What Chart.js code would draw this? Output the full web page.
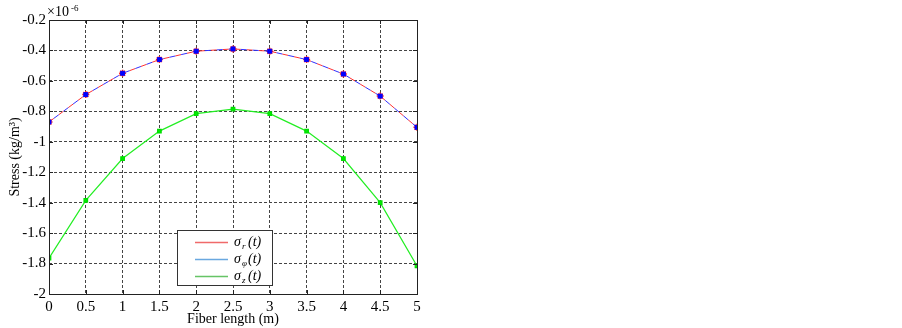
<!DOCTYPE html>
<html>
<head>
<meta charset="utf-8">
<script src="https://cdn.jsdelivr.net/npm/chart.js@4.4.1/dist/chart.umd.min.js"></script>
<style>
  html, body { margin: 0; padding: 0; background: #fff; }
  #wrap { width: 902px; height: 328px; }
</style>
</head>
<body>
<div id="wrap"><canvas id="myChart" width="902" height="328"></canvas></div>
<script>
// fiber length (m)
const xValues = [0, 0.5, 1, 1.5, 2, 2.5, 3, 3.5, 4, 4.5, 5];
// stress, x 1e-6
const sigmaR   = [-0.87, -0.69, -0.55, -0.46, -0.405, -0.39, -0.405, -0.46, -0.555, -0.70, -0.905];
const sigmaPhi = [-0.87, -0.69, -0.55, -0.46, -0.405, -0.39, -0.405, -0.46, -0.555, -0.70, -0.905];
const sigmaZ   = [-1.765, -1.385, -1.11, -0.93, -0.815, -0.785, -0.815, -0.93, -1.11, -1.40, -1.815];

const xTicks = [0, 0.5, 1, 1.5, 2, 2.5, 3, 3.5, 4, 4.5, 5];
const yTicks = [-2, -1.8, -1.6, -1.4, -1.2, -1, -0.8, -0.6, -0.4, -0.2];
const legendNames = [['σ', 'r'], ['σ', 'φ'], ['σ', 'z']];

const serif = '"Liberation Serif", "Times New Roman", serif';

const pts = arr => arr.map((v, i) => ({ x: xValues[i], y: v }));

// box, inner ticks, exponent label and legend
const matlabBits = {
    id: 'matlabBits',
    afterDraw(chart) {
        const { ctx, chartArea: a, scales } = chart;
        ctx.save();
        ctx.strokeStyle = '#222';
        ctx.lineWidth = 1;
        ctx.setLineDash([]);
        ctx.strokeRect(a.left + 0.5, a.top + 0.5, a.right - a.left, a.bottom - a.top);
        ctx.beginPath();
        xTicks.forEach(t => {
            const px = Math.round(scales.x.getPixelForValue(t)) + 0.5;
            ctx.moveTo(px, a.bottom); ctx.lineTo(px, a.bottom - 4);
            ctx.moveTo(px, a.top); ctx.lineTo(px, a.top + 4);
        });
        yTicks.forEach(t => {
            const py = Math.round(scales.y.getPixelForValue(t)) + 0.5;
            ctx.moveTo(a.left, py); ctx.lineTo(a.left + 4, py);
            ctx.moveTo(a.right, py); ctx.lineTo(a.right - 4, py);
        });
        ctx.stroke();

        // x10^-6
        ctx.fillStyle = '#000';
        ctx.textBaseline = 'alphabetic';
        ctx.font = '14px ' + serif;
        ctx.fillText('×10', a.left - 2, a.top - 4);
        ctx.font = '9px ' + serif;
        ctx.fillText('-6', a.left + 22, a.top - 9);

        // legend
        const lx = 177, ly = 230, lw = 95, lh = 55;
        ctx.fillStyle = '#fff';
        ctx.fillRect(lx, ly, lw, lh);
        ctx.strokeStyle = '#333';
        ctx.strokeRect(lx + 0.5, ly + 0.5, lw, lh);
        const cols = ['#f06a6a', '#6aa8e0', '#66c466'];
        legendNames.forEach((n, i) => {
            const y = ly + 12 + i * 17;
            ctx.strokeStyle = cols[i];
            ctx.lineWidth = 1.5;
            ctx.beginPath();
            ctx.moveTo(lx + 18, y + 0.5); ctx.lineTo(lx + 51, y + 0.5);
            ctx.stroke();
            ctx.fillStyle = '#000';
            ctx.font = 'italic 14px ' + serif;
            ctx.fillText(n[0], lx + 57, y + 4);
            ctx.font = 'italic 9px ' + serif;
            ctx.fillText(n[1], lx + 65, y + 7);
            ctx.font = 'italic 14px ' + serif;
            ctx.fillText('(t)', lx + 71, y + 4);
        });
        ctx.restore();
    }
};

new Chart(document.getElementById('myChart'), {
    type: 'line',
    data: {
        datasets: [
            {
                label: 'sigma_r',
                data: pts(sigmaR),
                order: 3,
                borderColor: '#ff3030',
                borderWidth: 1,
                borderDash: [6, 6],
                pointStyle: 'star',
                pointRadius: 3.5,
                pointBorderColor: '#ff2020',
                pointBorderWidth: 1.5,
                pointBackgroundColor: '#ff2020',
                tension: 0
            },
            {
                label: 'sigma_phi',
                data: pts(sigmaPhi),
                order: 2,
                borderColor: '#3030ff',
                borderWidth: 1,
                borderDash: [6, 6],
                borderDashOffset: 6,
                pointStyle: 'rect',
                pointRadius: 2.8,
                pointBorderColor: '#0000ff',
                pointBackgroundColor: '#0000ff',
                tension: 0
            },
            {
                label: 'sigma_z',
                data: pts(sigmaZ),
                order: 1,
                borderColor: '#22ee22',
                borderWidth: 1.2,
                pointStyle: 'rect',
                pointRadius: 2.5,
                pointBorderColor: '#00dd00',
                pointBackgroundColor: '#00ee00',
                tension: 0
            }
        ]
    },
    options: {
        responsive: false,
        animation: false,
        layout: { padding: { top: 20, right: 485, left: 0, bottom: 0 } },
        scales: {
            x: {
                type: 'linear',
                min: 0,
                max: 5,
                afterBuildTicks: s => { s.ticks = xTicks.map(v => ({ value: v })); },
                afterFit: s => { s.height = 34; },
                ticks: { color: '#000', padding: 4, font: { family: serif, size: 15 }, maxRotation: 0, callback: v => String(v) },
                grid: { color: '#444', lineWidth: 1, drawTicks: false },
                border: { display: false, dash: [3, 2] },
                title: { display: true, text: 'Fiber length (m)', color: '#000', padding: { top: 0, bottom: 0 }, font: { family: serif, size: 14 } }
            },
            y: {
                type: 'linear',
                min: -2,
                max: -0.2,
                afterBuildTicks: s => { s.ticks = yTicks.map(v => ({ value: v })); },
                afterFit: s => { s.width = 49; },
                ticks: { color: '#000', padding: 3, font: { family: serif, size: 15 }, callback: v => String(v) },
                grid: { color: '#444', lineWidth: 1, drawTicks: false },
                border: { display: false, dash: [3, 2] },
                title: { display: true, text: 'Stress (kg/m³)', color: '#000', padding: { top: 7, bottom: 0 }, font: { family: serif, size: 14 } }
            }
        },
        plugins: {
            legend: { display: false },
            tooltip: { enabled: false }
        }
    },
    plugins: [matlabBits]
});
</script>
</body>
</html>
